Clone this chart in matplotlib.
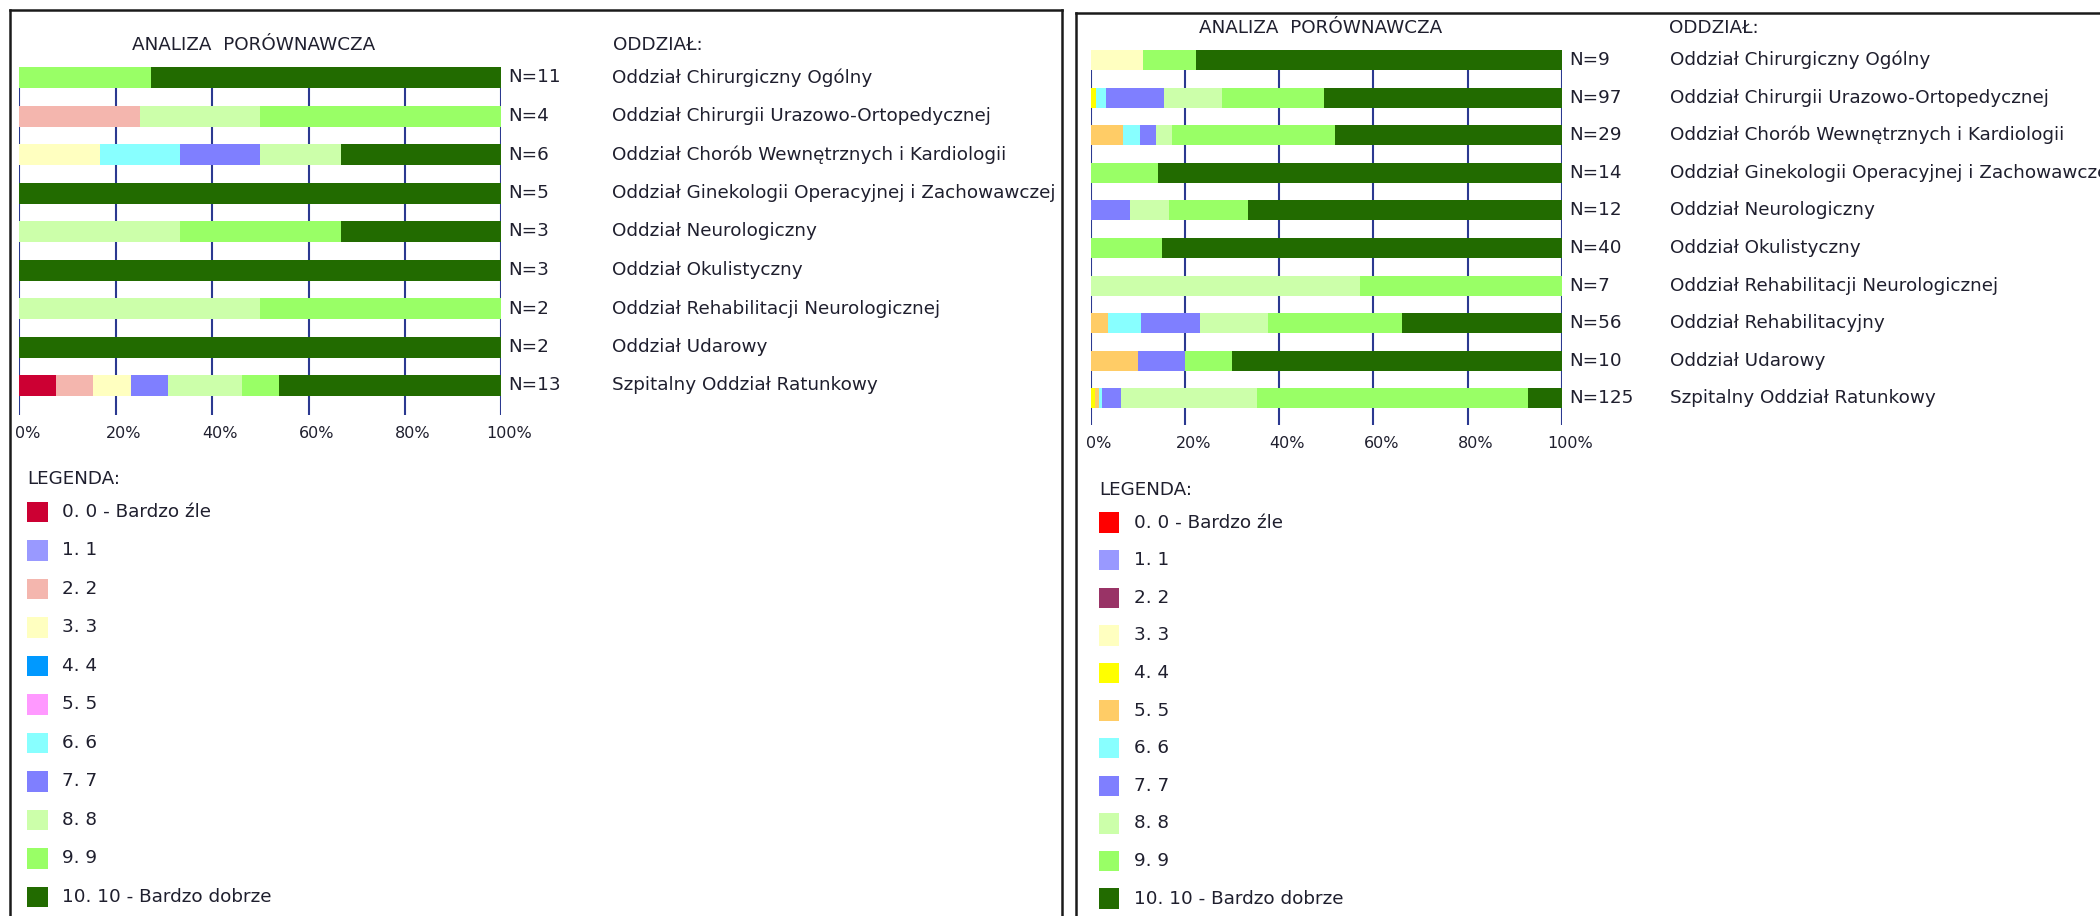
import matplotlib
matplotlib.use("Agg")
import numpy as np
import matplotlib.pyplot as plt
from matplotlib.patches import Rectangle
from matplotlib.lines import Line2D

# --- data: counts of answers 0..10 per department ---
left_departments = [
    "Oddział Chirurgiczny Ogólny",
    "Oddział Chirurgii Urazowo-Ortopedycznej",
    "Oddział Chorób Wewnętrznych i Kardiologii",
    "Oddział Ginekologii Operacyjnej i Zachowawczej",
    "Oddział Neurologiczny",
    "Oddział Okulistyczny",
    "Oddział Rehabilitacji Neurologicznej",
    "Oddział Udarowy",
    "Szpitalny Oddział Ratunkowy",
]
left_counts = [
    [0, 0, 0, 0, 0, 0, 0, 0, 0, 3, 8],
    [0, 0, 1, 0, 0, 0, 0, 0, 1, 2, 0],
    [0, 0, 0, 1, 0, 0, 1, 1, 1, 0, 2],
    [0, 0, 0, 0, 0, 0, 0, 0, 0, 0, 5],
    [0, 0, 0, 0, 0, 0, 0, 0, 1, 1, 1],
    [0, 0, 0, 0, 0, 0, 0, 0, 0, 0, 3],
    [0, 0, 0, 0, 0, 0, 0, 0, 1, 1, 0],
    [0, 0, 0, 0, 0, 0, 0, 0, 0, 0, 2],
    [1, 0, 1, 1, 0, 0, 0, 1, 2, 1, 6],
]
left_colors = ["#CC0033", "#9999FF", "#F4B6AE", "#FFFFC0", "#0099FF", "#FF99FF",
               "#88FFFF", "#7F7FFF", "#CCFFAA", "#99FF66", "#226B00"]

right_departments = [
    "Oddział Chirurgiczny Ogólny",
    "Oddział Chirurgii Urazowo-Ortopedycznej",
    "Oddział Chorób Wewnętrznych i Kardiologii",
    "Oddział Ginekologii Operacyjnej i Zachowawczej",
    "Oddział Neurologiczny",
    "Oddział Okulistyczny",
    "Oddział Rehabilitacji Neurologicznej",
    "Oddział Rehabilitacyjny",
    "Oddział Udarowy",
    "Szpitalny Oddział Ratunkowy",
]
right_counts = [
    [0, 0, 0, 1, 0, 0, 0, 0, 0, 1, 7],
    [0, 0, 0, 0, 1, 0, 2, 12, 12, 21, 49],
    [0, 0, 0, 0, 0, 2, 1, 1, 1, 10, 14],
    [0, 0, 0, 0, 0, 0, 0, 0, 0, 2, 12],
    [0, 0, 0, 0, 0, 0, 0, 1, 1, 2, 8],
    [0, 0, 0, 0, 0, 0, 0, 0, 0, 6, 34],
    [0, 0, 0, 0, 0, 0, 0, 0, 4, 3, 0],
    [0, 0, 0, 0, 0, 2, 4, 7, 8, 16, 19],
    [0, 0, 0, 0, 0, 1, 0, 1, 0, 1, 7],
    [0, 0, 0, 0, 1, 1, 1, 5, 36, 72, 9],
]
right_colors = ["#FF0000", "#9999FF", "#993366", "#FFFFC0", "#FFFF00", "#FFCC66",
                "#88FFFF", "#7F7FFF", "#CCFFAA", "#99FF66", "#226B00"]

legend_labels = ["0. 0 - Bardzo źle", "1. 1", "2. 2", "3. 3", "4. 4", "5. 5",
                 "6. 6", "7. 7", "8. 8", "9. 9", "10. 10 - Bardzo dobrze"]
ticks = [0, 20, 40, 60, 80, 100]

W, H = 2100, 916
TXT = "#1f1f2e"
GRID = "#2B3990"
FS = 13.2

plt.rcParams["font.family"] = "DejaVu Sans"
plt.rcParams["font.size"] = FS
plt.rcParams["text.color"] = TXT


def fx(px):
    return px / W


def fy(py):
    return 1 - py / H


def draw_chart(fig, counts, names, colors, x0, x1, y_first, pitch, bar_px, grid_end,
               title_xy, name_x):
    counts = np.array(counts, dtype=float)
    n = counts.sum(axis=1)
    pct = counts / n[:, None] * 100
    cum = np.cumsum(pct, axis=1) - pct
    rows = np.arange(len(names))

    top_px = y_first - pitch * 0.6
    ax = fig.add_axes([fx(x0), fy(grid_end), (x1 - x0) / W, (grid_end - top_px) / H])
    y_bot = (grid_end - y_first) / pitch
    y_top = (top_px - y_first) / pitch
    ax.set_xlim(0, 100)
    ax.set_ylim(y_bot, y_top)
    ax.axis("off")

    bh = bar_px / pitch
    ax.vlines(ticks, -bh / 2, y_bot, colors=GRID, lw=1.5, zorder=1)
    for k in range(counts.shape[1]):
        ax.barh(rows, pct[:, k], left=cum[:, k], height=bh, color=colors[k],
                linewidth=0, zorder=2)

    for t in ticks:
        ax.annotate(f"{t}%", xy=(t, y_bot), xytext=(8, -18), textcoords="offset pixels",
                    ha="center", va="center", fontsize=11.5, annotation_clip=False)
    for i in rows:
        ax.annotate(f"N={int(n[i])}", xy=(100, i), xytext=(7, 0), textcoords="offset pixels",
                    ha="left", va="center", annotation_clip=False)
        ax.annotate(names[i], xy=(100, i), xytext=(name_x - x1, 0), textcoords="offset pixels",
                    ha="left", va="center", annotation_clip=False)

    fig.text(fx(title_xy[0]), fy(title_xy[1]), "ANALIZA  PORÓWNAWCZA", ha="center", va="center")
    fig.text(fx(name_x), fy(title_xy[1]), "ODDZIAŁ:", ha="left", va="center")


def draw_legend(fig, colors, x, y_head, y_first_top, pitch, label_x):
    fig.text(fx(x), fy(y_head), "LEGENDA:", ha="left", va="center")
    sq = 20.5
    for k, (c, lab) in enumerate(zip(colors, legend_labels)):
        top = y_first_top + k * pitch
        fig.add_artist(Rectangle((fx(x), fy(top + sq)), sq / W, sq / H,
                                 transform=fig.transFigure, facecolor=c, edgecolor="none"))
        fig.text(fx(label_x), fy(top + sq / 2), lab, ha="left", va="center")


fig = plt.figure(figsize=(W / 100, H / 100), dpi=100)
fig.patch.set_facecolor("white")

# panel frames
lw = 1.8
for xs, ys in [([9.5, 1062.3], [10, 10]), ([9.5, 9.5], [10, H]), ([1062.3, 1062.3], [10, H]),
               ([1076, W], [13.3, 13.3]), ([1076, 1076], [13.3, H])]:
    fig.add_artist(Line2D([fx(v) for v in xs], [fy(v) for v in ys], color="#1a1a1a", lw=lw,
                          transform=fig.transFigure))

draw_chart(fig, left_counts, left_departments, left_colors,
           x0=19.3, x1=501.3, y_first=77.5, pitch=38.5, bar_px=21, grid_end=415,
           title_xy=(253.5, 45), name_x=612.5)
draw_chart(fig, right_counts, right_departments, right_colors,
           x0=1091, x1=1561.8, y_first=60, pitch=37.6, bar_px=20, grid_end=425,
           title_xy=(1320.7, 28.3), name_x=1669.5)

draw_legend(fig, left_colors, x=27, y_head=479.3, y_first_top=501.7, pitch=38.5, label_x=61.9)
draw_legend(fig, right_colors, x=1098.9, y_head=490, y_first_top=512.3, pitch=37.6, label_x=1133.7)

fig.savefig("out.png", dpi=100)
